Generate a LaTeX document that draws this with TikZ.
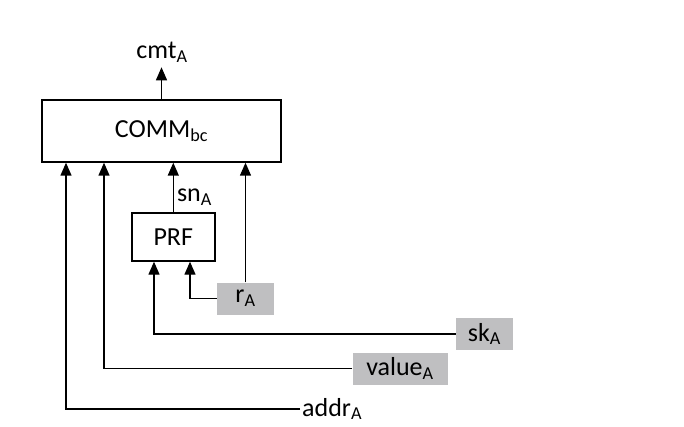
\documentclass[tikz,border=0pt]{standalone}
\usepackage{fontspec}
\setmainfont{Carlito}
\usetikzlibrary{arrows.meta}

\tikzset{
  blk/.style={draw, line width=1.4pt, inner sep=0pt},
  keybox/.style={fill=keygray, inner sep=0pt, minimum height=32pt},
  arr/.style={line width=1.4pt, -{Triangle[width=11pt,length=13pt]}},
  wire/.style={line width=1.4pt}
}
\definecolor{keygray}{RGB}{191,191,193}

\begin{document}
\begin{tikzpicture}[x=1pt, y=-1pt, font=\fontsize{26}{30}\selectfont]
  \useasboundingbox (0,0) rectangle (684,427);

  % --- Boxes ---
  \node[blk, minimum width=239pt, minimum height=62pt] (comm) at (161.5,131) {COMM\textsubscript{bc}};
  \node[blk, minimum width=83pt, minimum height=48pt] (prf) at (173.3,237) {PRF};

  % --- Inputs ---
  \node[keybox, minimum width=57pt] (rA) at (245.5,298.5) {r\textsubscript{A}};
  \node[keybox, minimum width=57pt] (skA) at (484.5,334) {sk\textsubscript{A}};
  \node[keybox, minimum width=95pt] (valueA) at (400,368.5) {value\textsubscript{A}};
  \node[anchor=west, inner sep=2pt] (addrA) at (300,409) {addr\textsubscript{A}};

  % --- Output ---
  \node (cmtA) at (162,52) {cmt\textsubscript{A}};

  % --- Connection points ---
  \coordinate (inaddr) at ([xshift=-95.5pt]comm.south);
  \coordinate (invalue) at ([xshift=-57.5pt]comm.south);
  \coordinate (insk) at ([xshift=-19.3pt]prf.south);
  \coordinate (inr) at ([xshift=16.7pt]prf.south);

  % --- Connectors ---
  \draw[arr] (comm.north) -- ++(0,-32);
  \draw[arr] (prf.north) -- node[right, pos=0.3, inner sep=3pt] (snA) {sn\textsubscript{A}} (prf.north |- comm.south);
  \draw[arr] (rA.north) -- (rA.north |- comm.south);
  \draw[arr] (rA.west) -| (inr);
  \draw[arr] (skA.west) -| (insk);
  \draw[arr] (valueA.west) -| (invalue);
  \draw[arr] (addrA.west) -| (inaddr);

\end{tikzpicture}
\end{document}
